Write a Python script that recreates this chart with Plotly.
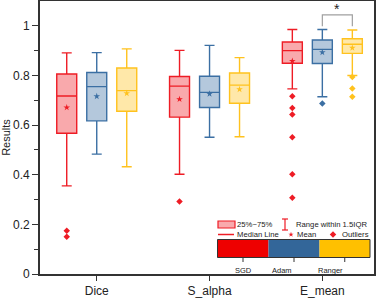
import plotly.graph_objects as go

# ---------------- data ----------------
metrics = ["Dice", "S_alpha", "E_mean"]
optimizers = ["SGD", "Adam", "Ranger"]

q1 = {"SGD": [0.567, 0.632, 0.849], "Adam": [0.617, 0.671, 0.848], "Ranger": [0.656, 0.688, 0.889]}
median = {"SGD": [0.717, 0.757, 0.900], "Adam": [0.755, 0.732, 0.905], "Ranger": [0.739, 0.761, 0.926]}
q3 = {"SGD": [0.806, 0.796, 0.935], "Adam": [0.812, 0.797, 0.943], "Ranger": [0.830, 0.810, 0.948]}
lower = {"SGD": [0.355, 0.402, 0.746], "Adam": [0.483, 0.551, 0.714], "Ranger": [0.432, 0.553, 0.800]}
upper = {"SGD": [0.891, 0.901, 0.985], "Adam": [0.892, 0.921, 0.985], "Ranger": [0.907, 0.872, 0.983]}
means = {"SGD": [0.671, 0.704, 0.858], "Adam": [0.716, 0.726, 0.893], "Ranger": [0.728, 0.744, 0.911]}
outliers = {
    "SGD": [[0.174, 0.150], [0.292], [0.716, 0.669, 0.643, 0.551, 0.402, 0.307]],
    "Adam": [[], [], [0.687]],
    "Ranger": [[], [], [0.794, 0.747, 0.714]],
}

line_col = {"SGD": "#EE1C25", "Adam": "#3B6FA3", "Ranger": "#FFC21E"}
fill_col = {"SGD": "rgba(238,28,37,0.38)", "Adam": "rgba(59,111,163,0.38)", "Ranger": "rgba(255,194,30,0.38)"}
bar_col = {"SGD": "#EE0000", "Adam": "#336699", "Ranger": "#FFC000"}
offset = {"SGD": -0.266, "Adam": 0.0, "Ranger": 0.266}
box_w = 0.177

FONT = "Liberation Sans, Arial, sans-serif"
fig = go.Figure()

for opt in optimizers:
    for i, m in enumerate(metrics):
        xpos = i + offset[opt]
        fig.add_trace(go.Box(
            x=[xpos], q1=[q1[opt][i]], median=[median[opt][i]], q3=[q3[opt][i]],
            lowerfence=[lower[opt][i]], upperfence=[upper[opt][i]],
            width=box_w, whiskerwidth=0.5, boxpoints=False,
            fillcolor=fill_col[opt], line=dict(color=line_col[opt], width=1.4),
            showlegend=False, hoverinfo="skip"))
        fig.add_trace(go.Scatter(
            x=[xpos], y=[means[opt][i]], mode="markers",
            marker=dict(symbol="star", size=5, color=line_col[opt], line=dict(width=0)),
            showlegend=False, hoverinfo="skip"))
        if outliers[opt][i]:
            fig.add_trace(go.Scatter(
                x=[xpos] * len(outliers[opt][i]), y=outliers[opt][i], mode="markers",
                marker=dict(symbol="diamond", size=5, color=line_col[opt], line=dict(width=0)),
                showlegend=False, hoverinfo="skip"))

# significance bracket between E_mean Adam and Ranger
xa = 2 + offset["Adam"]
xr = 2 + offset["Ranger"]
fig.add_shape(type="path", xref="x", yref="y",
              path=f"M {xa} 0.998 L {xa} 1.044 L {xr} 1.044 L {xr} 0.998",
              line=dict(color="#A0A0A0", width=1.2))
fig.add_annotation(x=(xa + xr) / 2, y=1.05, xref="x", yref="y", text="*", showarrow=False,
                   font=dict(size=14, color="#222", family=FONT), yanchor="bottom", yshift=-6)

# ---------------- legend (pixel helpers) ----------------
L, R, T, B = 40, 374, 1, 274
def px(x):
    return (x - L) / (R - L)
def py(y):
    return (B - y) / (B - T)

shapes = []
# box icon
shapes.append(dict(type="rect", xref="paper", yref="paper", x0=px(218), x1=px(235), y0=py(228), y1=py(221),
                   fillcolor=fill_col["SGD"], line=dict(color=line_col["SGD"], width=1.2)))
# range icon
shapes.append(dict(type="line", xref="paper", yref="paper", x0=px(285), x1=px(285), y0=py(230), y1=py(219),
                   line=dict(color=line_col["SGD"], width=1.2)))
shapes.append(dict(type="line", xref="paper", yref="paper", x0=px(282), x1=px(288), y0=py(219), y1=py(219),
                   line=dict(color=line_col["SGD"], width=1.2)))
shapes.append(dict(type="line", xref="paper", yref="paper", x0=px(282), x1=px(288), y0=py(230), y1=py(230),
                   line=dict(color=line_col["SGD"], width=1.2)))
# median line icon
shapes.append(dict(type="line", xref="paper", yref="paper", x0=px(218), x1=px(234), y0=py(234.5), y1=py(234.5),
                   line=dict(color=line_col["SGD"], width=1.5)))
# colour bar
bar_edges = [217.5, 268.5, 319.5, 370]
for k, opt in enumerate(optimizers):
    shapes.append(dict(type="rect", xref="paper", yref="paper", x0=px(bar_edges[k]), x1=px(bar_edges[k + 1]),
                       y0=py(257.5), y1=py(239.5), fillcolor=bar_col[opt], line=dict(width=0)))
    cx = (bar_edges[k] + bar_edges[k + 1]) / 2
    shapes.append(dict(type="line", xref="paper", yref="paper", x0=px(cx), x1=px(cx), y0=py(257.5), y1=py(262),
                       line=dict(color="#333", width=1)))
    fig.add_annotation(x=px(cx), y=py(270), xref="paper", yref="paper", text=opt, showarrow=False,
                       yanchor="middle", font=dict(size=7.5, color="#222", family=FONT))
shapes.append(dict(type="rect", xref="paper", yref="paper", x0=px(217.5), x1=px(370), y0=py(257.5), y1=py(239.5),
                   line=dict(color="#333", width=1)))
for s in shapes:
    fig.add_shape(**s)

legend_texts = [("25%~75%", 237, 224.5), ("Range within 1.5IQR", 296, 224.5),
                ("Median Line", 237, 234.5), ("Mean", 296.5, 234.5), ("Outliers", 342, 234.5)]
for txt, x, y in legend_texts:
    fig.add_annotation(x=px(x), y=py(y), xref="paper", yref="paper", text=txt, showarrow=False,
                       xanchor="left", yanchor="middle", xshift=-2,
                       font=dict(size=7.7, color="#222", family=FONT))

fig.add_trace(go.Scatter(x=[px(291)], y=[py(234.5)], xaxis="x2", yaxis="y2", mode="markers",
                         marker=dict(symbol="star", size=4, color=line_col["SGD"], line=dict(width=0)),
                         showlegend=False, hoverinfo="skip"))
fig.add_trace(go.Scatter(x=[px(333)], y=[py(234.5)], xaxis="x2", yaxis="y2", mode="markers",
                         marker=dict(symbol="diamond", size=5, color=line_col["SGD"], line=dict(width=0)),
                         showlegend=False, hoverinfo="skip"))

fig.update_layout(
    width=380, height=299, margin=dict(l=L, r=380 - R, t=T, b=299 - B),
    paper_bgcolor="white", plot_bgcolor="white", boxmode="overlay",
    font=dict(family=FONT, color="#222"),
    xaxis=dict(range=[-0.503, 2.458], tickvals=[0, 1, 2], ticktext=metrics, automargin=False,
               showgrid=False, zeroline=False, showline=True, linecolor="#333", linewidth=1.6, mirror=True,
               ticks="outside", ticklen=5, tickwidth=1.2, tickcolor="#333",
               tickfont=dict(size=12, family=FONT, color="#222")),
    yaxis=dict(range=[0, 1.1], tickvals=[0, 0.2, 0.4, 0.6, 0.8, 1], ticktext=["0", "0.2", "0.4", "0.6", "0.8", "1"],
               automargin=False,
               showgrid=False, zeroline=False, showline=True, linecolor="#333", linewidth=1.6, mirror=True,
               ticks="outside", ticklen=6, tickwidth=1.2, tickcolor="#333",
               minor=dict(tickvals=[0.1, 0.3, 0.5, 0.7, 0.9], ticks="outside", ticklen=4, tickwidth=1.2, tickcolor="#333"),
               tickfont=dict(size=12, family=FONT, color="#222"),
               title=dict(text="Results", font=dict(size=11, family=FONT, color="#222"), standoff=4)),
    xaxis2=dict(range=[0, 1], overlaying="x", visible=False),
    yaxis2=dict(range=[0, 1], overlaying="y", visible=False),
)

fig.write_html("out.html", config={"displayModeBar": False},
               post_script="document.body.style.margin='0px';")
